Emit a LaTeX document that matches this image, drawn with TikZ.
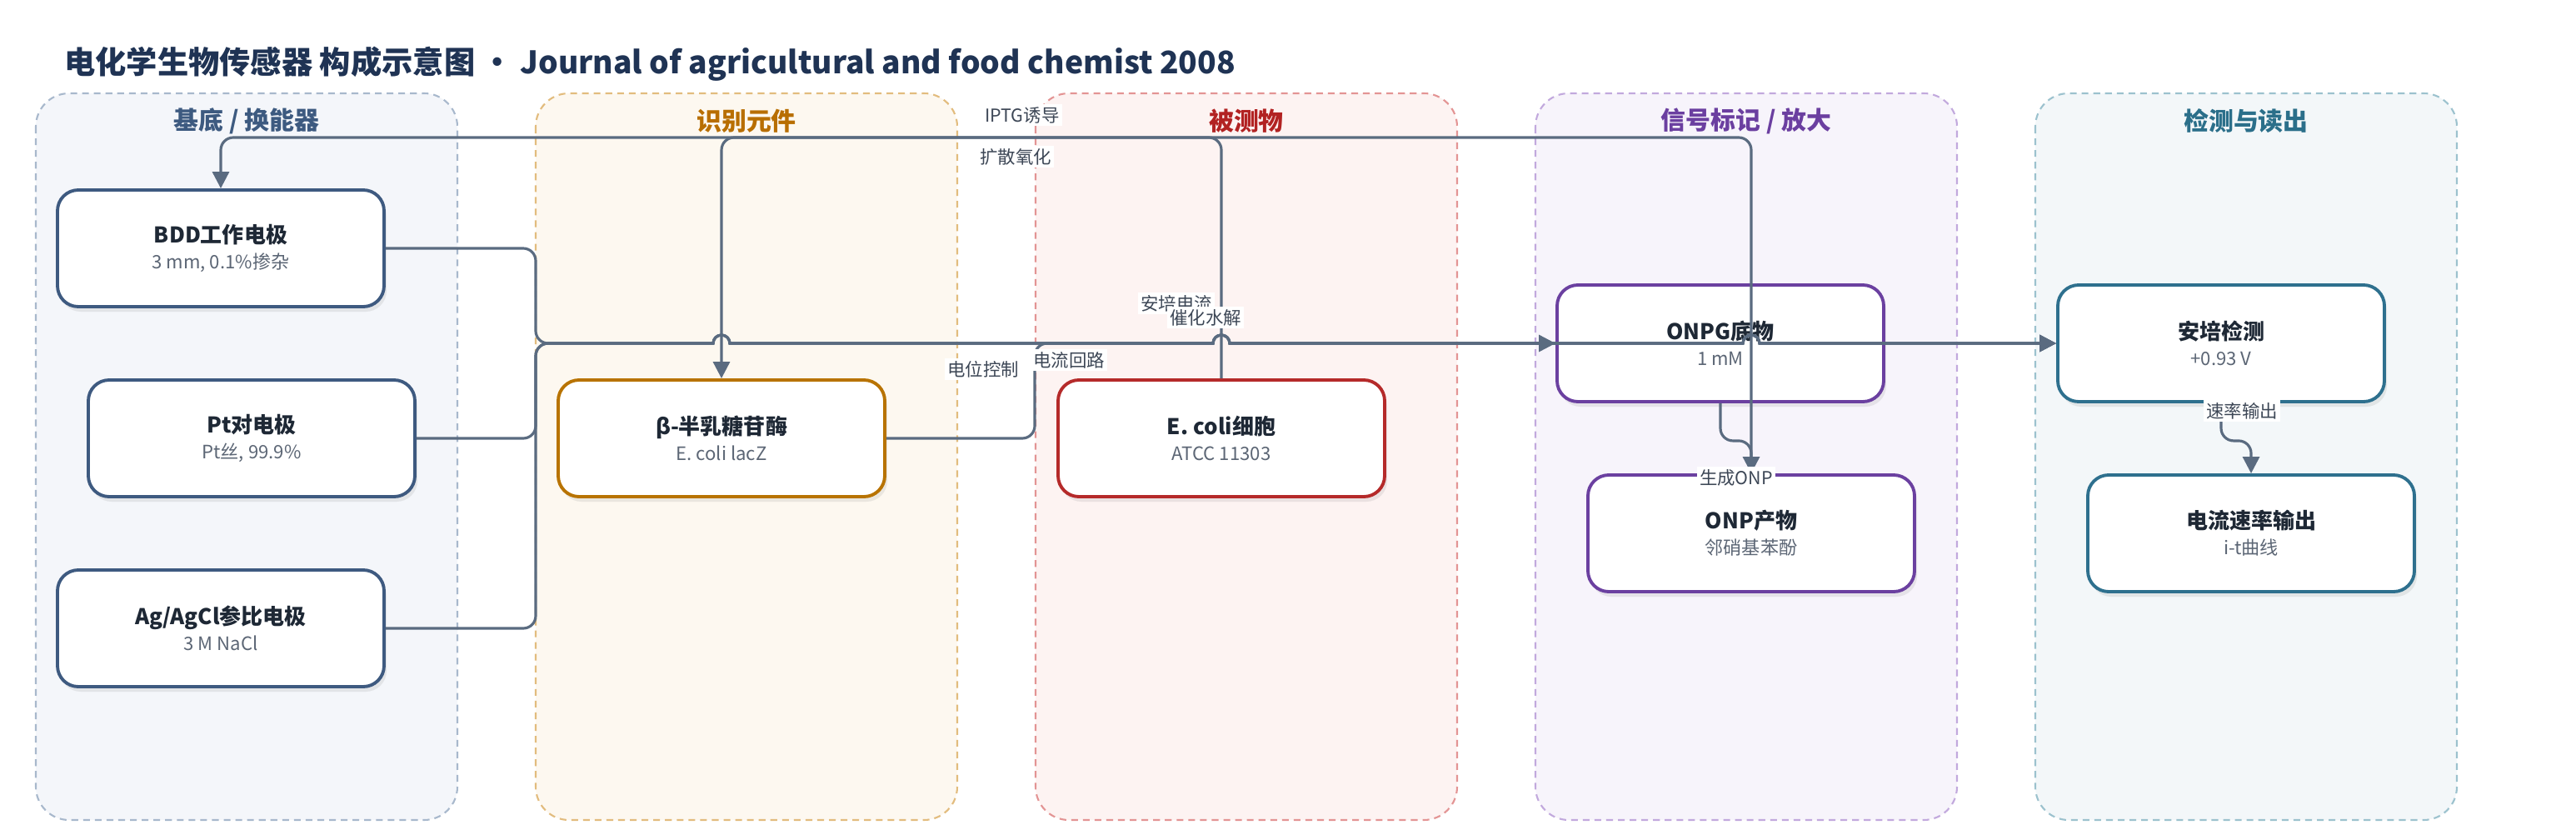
\documentclass[tikz,border=0pt]{standalone}
\usepackage{fontspec}
\setmainfont{Noto Sans CJK SC}
\usetikzlibrary{arrows.meta,shadows}

\definecolor{linec}{HTML}{5A6B80}
\definecolor{titlec}{HTML}{1F3354}
\definecolor{inkc}{HTML}{1E2835}
\definecolor{subc}{HTML}{5C6675}
\definecolor{labc}{HTML}{3D4756}
% panel colours: fill, dashed border, heading, box border
\definecolor{bgA}{HTML}{F4F6FA}\definecolor{bdA}{HTML}{A8B8CC}\definecolor{hdA}{HTML}{3D5A80}\definecolor{bxA}{HTML}{3E5A80}
\definecolor{bgB}{HTML}{FDF8F0}\definecolor{bdB}{HTML}{E2BC7E}\definecolor{hdB}{HTML}{B86E00}\definecolor{bxB}{HTML}{B87300}
\definecolor{bgC}{HTML}{FDF3F2}\definecolor{bdC}{HTML}{E39494}\definecolor{hdC}{HTML}{B22222}\definecolor{bxC}{HTML}{B52A2A}
\definecolor{bgD}{HTML}{F7F4FB}\definecolor{bdD}{HTML}{C2A9DD}\definecolor{hdD}{HTML}{6B3FA0}\definecolor{bxD}{HTML}{6B40A0}
\definecolor{bgE}{HTML}{F3F7F9}\definecolor{bdE}{HTML}{9CC2CE}\definecolor{hdE}{HTML}{2B6F8A}\definecolor{bxE}{HTML}{2E708E}

\newcommand{\boxlines}[2]{{\bfseries\fontsize{7.4}{8.8}\selectfont\color{inkc}#1}\\{\color{subc}#2}}
\newcommand{\linehop}[1]{[sharp corners] -- (#1-0.1,-4.12) arc[start angle=180,end angle=0,radius=0.1]}

\begin{document}
\begin{tikzpicture}[
  panel/.style={dash pattern=on 2.3pt off 1.7pt, line width=0.6pt, rounded corners=0.4cm},
  ptitle/.style={font=\fontsize{8.5}{10}\selectfont\bfseries},
  box/.style={draw=#1, line width=1.1pt, rounded corners=0.25cm, fill=white,
    minimum width=3.92cm, minimum height=1.40cm, align=center,
    font=\fontsize{6.3}{8.8}\selectfont,
    drop shadow={shadow xshift=0.03cm, shadow yshift=-0.06cm, opacity=0.15}},
  conn/.style={draw=linec, line width=0.9pt, rounded corners=0.15cm},
  arr/.style={-{Triangle[length=0.2cm,width=0.2cm]}},
  elabel/.style={fill=white, inner sep=1pt, text=labc, font=\fontsize{6.1}{7}\selectfont}
]
\useasboundingbox (0,0) rectangle (30.92,-10.07);

% columns
\draw[panel, draw=bdA, fill=bgA] (0.43,-1.12) rectangle ++(5.06,-8.72);
\draw[panel, draw=bdB, fill=bgB] (6.43,-1.12) rectangle ++(5.06,-8.72);
\draw[panel, draw=bdC, fill=bgC] (12.43,-1.12) rectangle ++(5.06,-8.72);
\draw[panel, draw=bdD, fill=bgD] (18.43,-1.12) rectangle ++(5.06,-8.72);
\draw[panel, draw=bdE, fill=bgE] (24.43,-1.12) rectangle ++(5.06,-8.72);

\node[ptitle, text=hdA] (hA) at (2.96,-1.45) {基底 / 换能器};
\node[ptitle, text=hdB] (hB) at (8.96,-1.45) {识别元件};
\node[ptitle, text=hdC] (hC) at (14.96,-1.45) {被测物};
\node[ptitle, text=hdD] (hD) at (20.96,-1.45) {信号标记 / 放大};
\node[ptitle, text=hdE] (hE) at (26.96,-1.45) {检测与读出};

% components
\node[box=bxA] (bdd) at (2.65,-2.98) {\boxlines{BDD工作电极}{3 mm, 0.1\%掺杂}};
\node[box=bxA] (pt) at (3.02,-5.26) {\boxlines{Pt对电极}{Pt丝, 99.9\%}};
\node[box=bxA] (agcl) at (2.65,-7.54) {\boxlines{Ag/AgCl参比电极}{3 M NaCl}};
\node[box=bxB] (bgal) at (8.66,-5.26) {\boxlines{β-半乳糖苷酶}{E. coli lacZ}};
\node[box=bxC] (ecoli) at (14.66,-5.26) {\boxlines{E. coli细胞}{ATCC 11303}};
\node[box=bxD] (onpg) at (20.65,-4.12) {\boxlines{ONPG底物}{1 mM}};
\node[box=bxD] (onp) at (21.02,-6.40) {\boxlines{ONP产物}{邻硝基苯酚}};
\node[box=bxE] (ampdet) at (26.66,-4.12) {\boxlines{安培检测}{+0.93 V}};
\node[box=bxE] (rate) at (27.02,-6.40) {\boxlines{电流速率输出}{i-t曲线}};

\coordinate (topL) at (2.65,-1.65);
\coordinate (topE) at (8.66,-1.65);

% connectors
\draw[conn,arr] (ecoli.north) |- (topE) -- (bgal.north);
\draw[conn,arr] (onp.north) |- (topL) -- (bdd.north);
\draw[conn,arr] (onpg.south) -- ++(0,-0.45) -| (onp.north);
\draw[conn,arr] (ampdet.south) -- ++(0,-0.45) -| (rate.north);
\draw[conn,arr] (bgal.east) -| (12.42,-4.12) -- (13.4,-4.12) \linehop{14.66} -- (onpg.west);
\draw[conn,arr] (bdd.east) -| (6.43,-4.12) -- (7.4,-4.12) \linehop{8.66}\linehop{14.66}\linehop{21.02} -- (ampdet.west);
\draw[conn,arr] (pt.east) -| (6.43,-4.12) -- (7.4,-4.12) \linehop{8.66}\linehop{14.66}\linehop{21.02} -- (ampdet.west);
\draw[conn,arr] (agcl.east) -| (6.43,-4.12) -- (7.4,-4.12) \linehop{8.66}\linehop{14.66}\linehop{21.02} -- (ampdet.west);

\node[elabel] (lIPTG) at (12.27,-1.38) {IPTG诱导};
\node[elabel] (lDiff) at (12.19,-1.88) {扩散氧化};
\node[elabel] (lAmp) at (14.12,-3.64) {安培电流};
\node[elabel] (lCat) at (14.47,-3.81) {催化水解};
\node[elabel] (lPot) at (11.80,-4.43) {电位控制};
\node[elabel] (lLoop) at (12.83,-4.32) {电流回路};
\node[elabel] (lONP) at (20.84,-5.73) {生成ONP};
\node[elabel] (lRate) at (26.91,-4.93) {速率输出};

\node[anchor=base west, text=titlec, font=\fontsize{10.6}{12}\selectfont\bfseries] (title) at (0.65,-0.88)
  {电化学生物传感器 构成示意图 · Journal of agricultural and food chemist 2008};
\end{tikzpicture}
\end{document}
